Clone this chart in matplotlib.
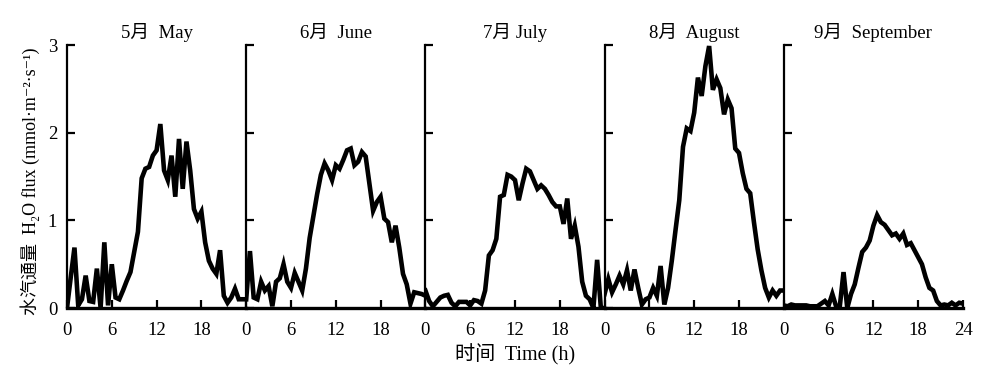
import numpy as np
import matplotlib
matplotlib.use("Agg")
import matplotlib.pyplot as plt

# half-hourly H2O flux, 0..24 h
hours = np.arange(0, 24.5, 0.5)

may = [0.00, 0.35, 0.69, 0.03, 0.10, 0.37, 0.08, 0.07, 0.45, 0.00,
       0.75, 0.03, 0.50, 0.12, 0.10, 0.20, 0.31, 0.41, 0.64, 0.87,
       1.48, 1.59, 1.61, 1.74, 1.80, 2.10, 1.57, 1.46, 1.74, 1.27,
       1.93, 1.36, 1.90, 1.57, 1.13, 1.02, 1.10, 0.75, 0.54, 0.45,
       0.39, 0.66, 0.14, 0.06, 0.12, 0.22, 0.10, 0.10, 0.10]

june = [0.10, 0.65, 0.12, 0.10, 0.30, 0.20, 0.25, 0.02, 0.30, 0.34,
        0.50, 0.30, 0.23, 0.40, 0.30, 0.20, 0.45, 0.80, 1.05, 1.30,
        1.52, 1.65, 1.57, 1.46, 1.63, 1.59, 1.69, 1.80, 1.82, 1.63,
        1.67, 1.78, 1.73, 1.42, 1.11, 1.21, 1.27, 1.02, 0.98, 0.75,
        0.94, 0.69, 0.39, 0.27, 0.05, 0.18, 0.17, 0.16, 0.14]

july = [0.20, 0.08, 0.02, 0.07, 0.12, 0.14, 0.15, 0.06, 0.02, 0.07,
        0.07, 0.07, 0.03, 0.09, 0.08, 0.05, 0.20, 0.60, 0.66, 0.79,
        1.27, 1.29, 1.52, 1.50, 1.46, 1.23, 1.42, 1.59, 1.56, 1.46,
        1.36, 1.40, 1.36, 1.29, 1.21, 1.16, 1.16, 0.96, 1.25, 0.79,
        0.94, 0.70, 0.30, 0.14, 0.10, 0.00, 0.55, 0.00, 0.00]

august = [0.16, 0.33, 0.18, 0.27, 0.37, 0.27, 0.43, 0.20, 0.44, 0.23,
          0.04, 0.10, 0.12, 0.23, 0.14, 0.48, 0.04, 0.23, 0.54, 0.89,
          1.23, 1.84, 2.05, 2.02, 2.23, 2.63, 2.42, 2.76, 2.99, 2.49,
          2.61, 2.51, 2.21, 2.38, 2.28, 1.82, 1.77, 1.54, 1.36, 1.31,
          0.98, 0.67, 0.43, 0.23, 0.12, 0.20, 0.14, 0.20, 0.20]

september = [0.03, 0.02, 0.04, 0.03, 0.03, 0.03, 0.03, 0.02, 0.02, 0.02,
             0.05, 0.08, 0.03, 0.16, 0.02, 0.02, 0.41, 0.00, 0.16, 0.27,
             0.46, 0.64, 0.69, 0.77, 0.94, 1.06, 0.98, 0.95, 0.89, 0.83,
             0.85, 0.79, 0.85, 0.72, 0.74, 0.66, 0.58, 0.50, 0.35, 0.23,
             0.20, 0.08, 0.03, 0.04, 0.03, 0.06, 0.03, 0.06, 0.05]

titles = ["5月  May", "6月  June", "7月 July", "8月  August", "9月  September"]
series = [may, june, july, august, september]

fonts = ["Liberation Serif", "Noto Sans CJK SC", "DejaVu Serif"]
plt.rcParams["font.family"] = fonts

fig = plt.figure(figsize=(10, 3.86), dpi=100)

left = 0.067
pw = 0.1792
bottom = 0.202
height = 0.681

for i, (vals, title) in enumerate(zip(series, titles)):
    ax = fig.add_axes([left + i * pw, bottom, pw, height])
    ax.plot(hours, vals, color="black", lw=3.3, solid_joinstyle="miter")
    ax.set_xlim(0, 24)
    ax.set_ylim(0, 3)
    ax.set_yticks([0, 1, 2, 3])
    if i == 4:
        ax.set_xticks([0, 6, 12, 18, 24])
    else:
        ax.set_xticks([0, 6, 12, 18])
    if i > 0:
        ax.set_yticklabels([])
    ax.spines["top"].set_visible(False)
    ax.spines["right"].set_visible(False)
    ax.spines["left"].set_linewidth(1.6)
    ax.spines["bottom"].set_linewidth(2.4)
    ax.tick_params(axis="both", direction="in", length=6, width=1.6,
                   labelsize=13.5)
    ax.tick_params(axis="x", pad=10)
    ax.tick_params(axis="y", pad=7)
    ax.patch.set_alpha(0)
    ax.set_title(title, fontsize=13.5, pad=5)

fig.text(0.515, 0.08, "时间  Time (h)", ha="center", va="center", fontsize=14.5)
fig.text(0.03, 0.53, "水汽通量  H₂O flux (mmol·m⁻²·s⁻¹)",
         ha="center", va="center", rotation=90, fontsize=13)

fig.savefig("out.png", dpi=100)
